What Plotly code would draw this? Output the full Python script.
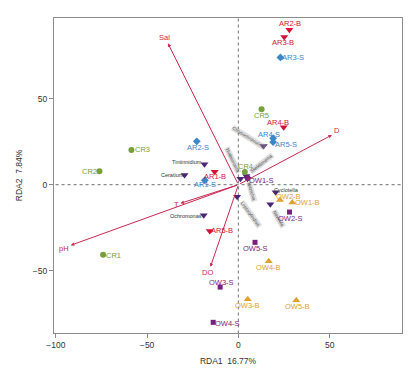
import plotly.graph_objects as go

# ---- sample scores ----
site_names = ["AR1-B", "AR2-B", "AR3-B", "AR4-B", "AR5-B",
              "AR1-S", "AR2-S", "AR3-S", "AR4-S", "AR5-S",
              "CR1", "CR2", "CR3", "CR4", "CR5",
              "OW1-B", "OW2-B", "OW3-B", "OW4-B", "OW5-B",
              "OW1-S", "OW2-S", "OW3-S", "OW4-S", "OW5-S"]
site_x = [-13.0, 27.9, 25.1, 24.8, -15.7,
          -18.4, -22.8, 23.0, 19.0, 19.0,
          -74.1, -76.1, -58.6, 3.5, 12.7,
          29.5, 22.8, 5.1, 16.6, 31.7,
          5.1, 28.0, -10.0, -13.8, 9.1]
site_y = [7.6, 90.0, 85.9, 33.4, -26.9,
          2.6, 25.2, 74.0, 27.0, 24.8,
          -40.7, 7.8, 20.2, 7.4, 43.8,
          -10.4, -8.9, -66.6, -44.5, -67.2,
          3.9, -15.9, -59.5, -80.0, -33.5]
# label offsets in pixels (right, down)
site_lab_dx = [0, 1, -1, -6, 12,
               0, 1, 13, -4, 13,
               10, -10, 11, 1, 0,
               15, 8, 0, 0, 1,
               14, 1, 1, 14, 0]
site_lab_dy = [5, -6, 6, -5, 0,
               4, 6, 0, -4, 2,
               1, 0, 0, -5, 6.5,
               0, -4, 6.5, 6.5, 6.5,
               2.5, 6.5, -5, 1, 6.5]
groups = ["AR-B"] * 5 + ["AR-S"] * 5 + ["CR"] * 5 + ["OW-B"] * 5 + ["OW-S"] * 5

group_style = {
    "AR-B": ("triangle-down", "#D01236", 7),
    "AR-S": ("diamond", "#3D87C8", 6),
    "CR": ("circle", "#77A03A", 6),
    "OW-B": ("triangle-up", "#E0A130", 7),
    "OW-S": ("square", "#7A1E80", 5),
}

# ---- environmental vectors ----
env_names = ["Sal", "D", "pH", "T", "DO"]
env_x = [-38.6, 51.2, -91.8, -31.7, -15.3]
env_y = [82.2, 28.9, -35.2, -10.8, -47.7]
env_lab_dx = [-3, 5, -7, -4, -3]
env_lab_dy = [-6, -4, 3, 1, 6]

# ---- species scores ----
sp_names = ["Tintinnidium", "Ceratium", "Ochromonas", "Cyclotella",
            "Chrysochromulina", "Thalassiosira", "Skeletonema",
            "Nitzschia", "Leptocylindrus", "Navicula"]
sp_x = [-18.6, -29.5, -19.0, 20.4, 13.8, 1.1, 4.3, 5.0, -0.7, 17.5]
sp_y = [11.9, 5.6, -17.8, -4.4, 22.5, 3.5, 5.0, 3.5, -7.0, -11.4]
sp_lab_dx = [-17, -12, -18, 11]
sp_lab_dy = [-2, 0, 1, -2]
# rotated gray labels for the remaining species
rot_x = [5.5, -3.5, 12.6, 7.1, 6.6, 22.0]
rot_y = [27.4, 14.4, 12.4, -4.1, -17.6, -19.5]
rot_angle = [32, 64, -38, 74, 54, 60]

xticks = [-100, -50, 0, 50]
yticks = [-50, 0, 50]

FONT = "Arial, Liberation Sans, sans-serif"
ARROW_COL = "#C8284F"
SP_COL = "#4A2675"

fig = go.Figure()

# reference dotted lines
fig.add_shape(type="line", x0=0, x1=0, y0=-90, y1=100, xref="x", yref="y",
              line=dict(color="#8a8a8a", width=1.2, dash="dot"), layer="below")
fig.add_shape(type="line", x0=-110, x1=100, y0=0, y1=0, xref="x", yref="y",
              line=dict(color="#8a8a8a", width=1.2, dash="dot"), layer="below")

# env arrows
for n, ex, ey, dx, dy in zip(env_names, env_x, env_y, env_lab_dx, env_lab_dy):
    fig.add_annotation(x=ex, y=ey, ax=0, ay=0, xref="x", yref="y", axref="x", ayref="y",
                       showarrow=True, arrowhead=2, arrowsize=0.7, arrowwidth=1,
                       arrowcolor=ARROW_COL, text="")
    fig.add_annotation(x=ex, y=ey, xref="x", yref="y", text=n, showarrow=False,
                       xshift=dx, yshift=-dy,
                       font=dict(family=FONT, size=7.5, color=ARROW_COL))

# rotated species labels (gray)
for name, rx, ry, ang in zip(sp_names[4:], rot_x, rot_y, rot_angle):
    fig.add_annotation(x=rx, y=ry, xref="x", yref="y", text=name, showarrow=False,
                       textangle=ang, font=dict(family=FONT, size=4.5, color="#4a4a4a"),
                       bgcolor="rgba(175,175,175,0.4)", borderpad=0)

# species markers
fig.add_trace(go.Scatter(
    x=sp_x, y=sp_y, mode="markers",
    marker=dict(symbol="triangle-down", size=7, color=SP_COL),
    showlegend=False, hoverinfo="skip"))
for name, sx, sy, dx, dy in zip(sp_names[:4], sp_x, sp_y, sp_lab_dx, sp_lab_dy):
    fig.add_annotation(x=sx, y=sy, xref="x", yref="y", text=name, showarrow=False,
                       xshift=dx, yshift=-dy,
                       font=dict(family=FONT, size=5.5, color="#333333"))

# site markers by group
for g, (sym, col, sz) in group_style.items():
    idx = [i for i, gg in enumerate(groups) if gg == g]
    fig.add_trace(go.Scatter(
        x=[site_x[i] for i in idx], y=[site_y[i] for i in idx],
        mode="markers", marker=dict(symbol=sym, size=sz, color=col),
        showlegend=False, hoverinfo="skip"))
    for i in idx:
        fig.add_annotation(x=site_x[i], y=site_y[i], xref="x", yref="y",
                           text=site_names[i], showarrow=False,
                           xshift=site_lab_dx[i], yshift=-site_lab_dy[i],
                           font=dict(family=FONT, size=7.5, color=col))

axis_common = dict(showgrid=False, zeroline=False, showline=True, mirror=True,
                   linecolor="#8c8c8c", linewidth=1.2, ticks="outside", ticklen=4,
                   tickcolor="#8c8c8c", automargin=False,
                   tickfont=dict(family=FONT, size=8.5, color="#333333"))
fig.update_xaxes(range=[-101, 89.6], tickvals=xticks,
                 ticktext=["\u2212100", "\u221250", "0", "50"],
                 title=dict(text="RDA1  16.77%", font=dict(family=FONT, size=8.5, color="#333333"),
                            standoff=8),
                 **axis_common)
fig.update_yaxes(range=[-86.2, 96.9], tickvals=yticks,
                 ticktext=["\u221250", "0", "50"],
                 title=dict(text="RDA2  7.84%", font=dict(family=FONT, size=8.5, color="#333333"),
                            standoff=8),
                 **axis_common)

fig.update_layout(width=417, height=386, margin=dict(l=54, r=15, t=18, b=53),
                  plot_bgcolor="white", paper_bgcolor="white", showlegend=False)

fig.write_html("out.html", config={"displayModeBar": False},
               post_script="document.body.style.margin='0';")
